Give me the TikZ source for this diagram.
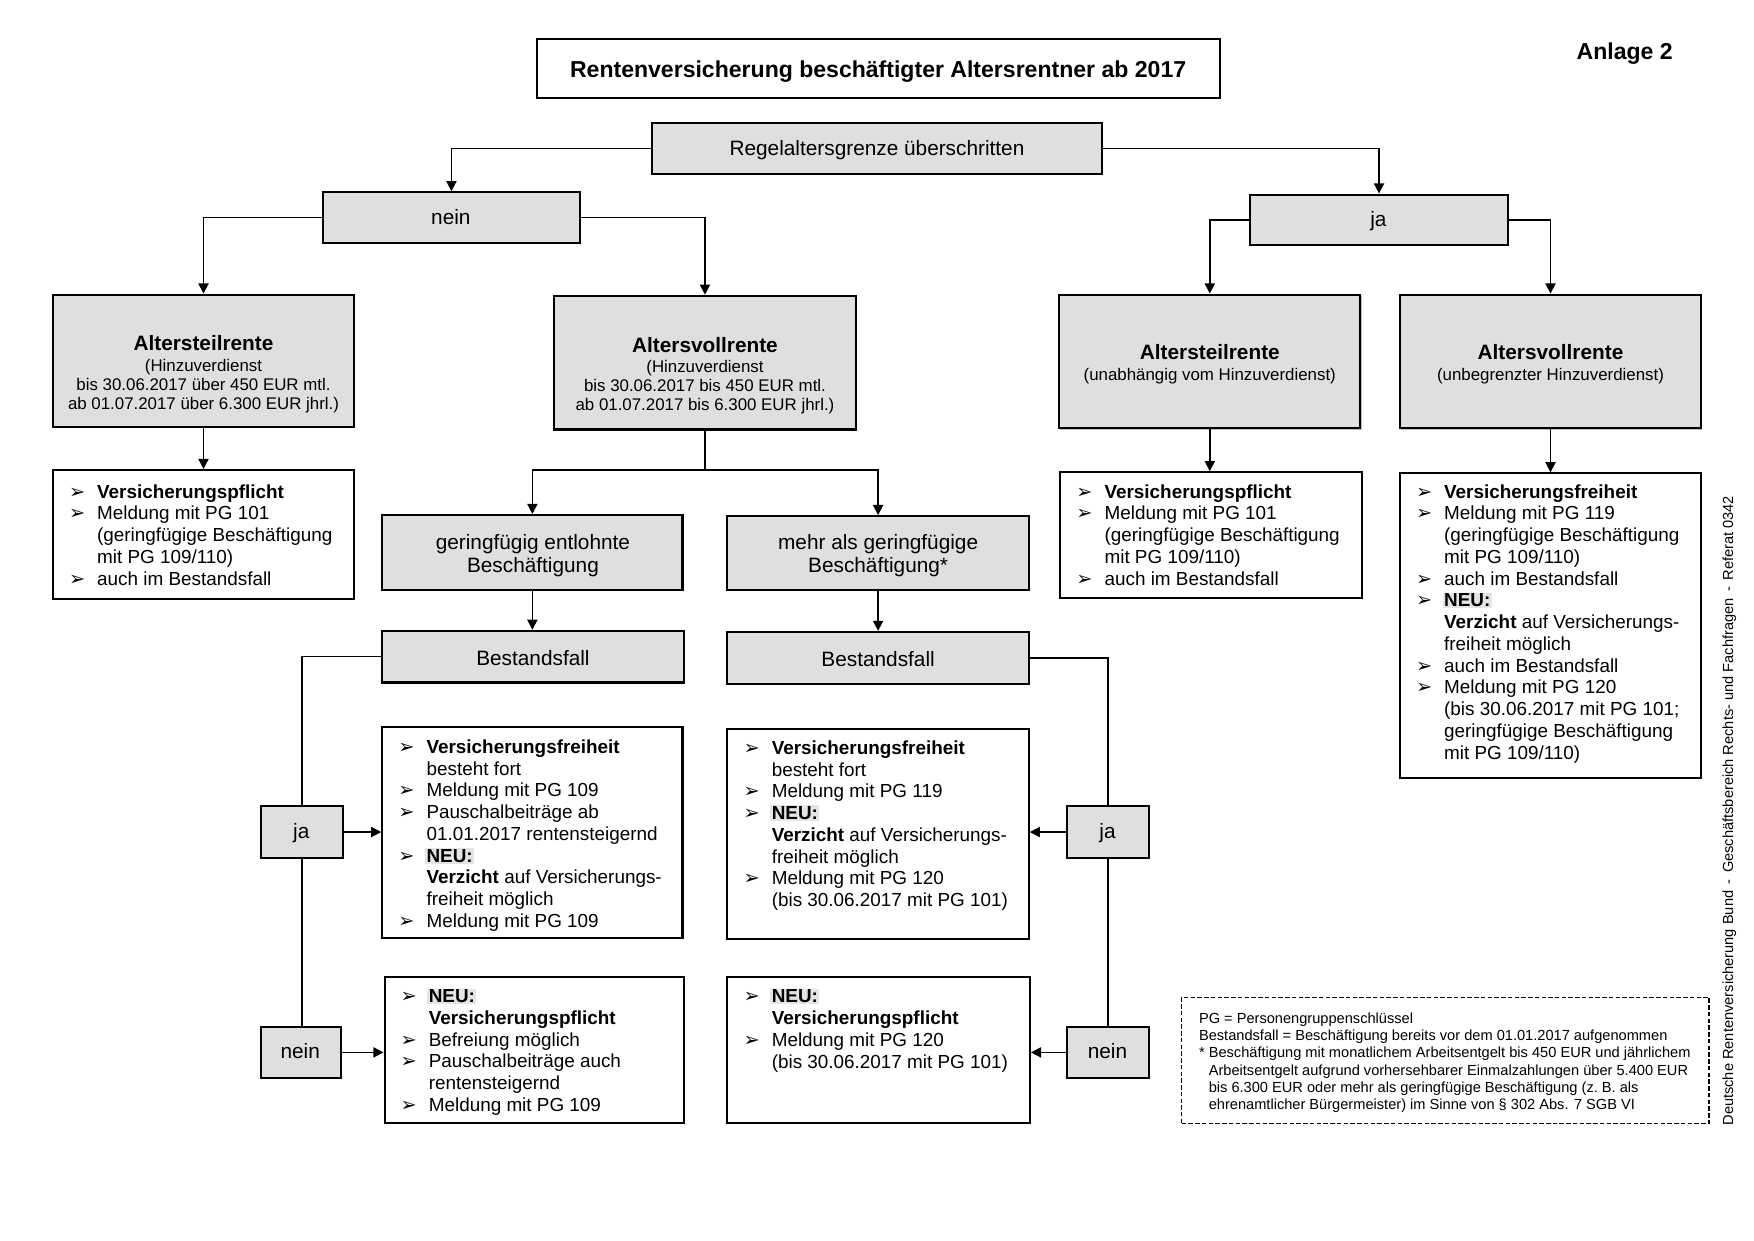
\documentclass[tikz,border=0pt]{standalone}
\usepackage{fontspec}
\setmainfont{Liberation Sans}
\newfontfamily\dvfont{DejaVu Sans}
\usetikzlibrary{arrows.meta,fit,shadows}
\definecolor{boxgray}{HTML}{DFDFDF}
\definecolor{neugray}{HTML}{E4E4E4}
\definecolor{shadowgray}{HTML}{BDBDBD}
\newcommand\fbig{\fontsize{10.25}{12}\selectfont}
\newcommand\fmid{\fontsize{9.25}{11}\selectfont}
\newcommand\flist{\fontsize{8.4}{10}\selectfont}
\newcommand\fsmall{\fontsize{7.5}{9}\selectfont}
\newcommand\ftiny{\fontsize{6.5}{8}\selectfont}
\newcommand\bu{\makebox[12.5pt][l]{{\dvfont\fontsize{8.6}{9}\selectfont ➢}}}
\newcommand\co{\hspace*{12.5pt}}
\newcommand\neu{{\setlength{\fboxsep}{0.6pt}\hspace*{-0.6pt}\colorbox{neugray}{\textbf{NEU:}}}}
\newcounter{tn}
\newcommand\tx[4][]{\stepcounter{tn}\node[txt,#1] (tx\arabic{tn}) at (#2,#3) {#4};}
\newcommand\lst[5][]{\foreach \xline [count=\i from 0] in {#5} {\stepcounter{tn}\node[lst,#1] (tx\arabic{tn}) at (#2,{#3+#4*\i}) {\xline};}}
\tikzset{
  txt/.style={inner sep=0pt, anchor=base, font=\fmid},
  lst/.style={inner sep=0pt, anchor=base west, font=\flist},
  shad/.style={drop shadow={shadow xshift=0.5pt, shadow yshift=-0.5pt, fill=shadowgray, opacity=1}},
  gbox/.style={draw, line width=0.9pt, fill=boxgray, inner sep=0pt, shad},
  wbox/.style={draw, line width=0.9pt, fill=white, inner sep=0pt, shad},
  conn/.style={line width=0.7pt, -{Triangle[length=4.5pt,width=4.5pt]}},
  plain/.style={line width=0.7pt},
}
\begin{document}
\begin{tikzpicture}[x=0.5pt,y=-0.5pt]
\fill[white] (0,0) rectangle (1560,1103);
\useasboundingbox (0,0) rectangle (1560,1103);

% boxes
\node[wbox, fit={(478,35) (1085,87)}] (title) {};
\node[gbox, fit={(580,109) (980,155)}] (reg) {};
\node[gbox, fit={(287,171) (516,216)}] (nein) {};
\node[gbox, fit={(1112,173) (1341,218)}] (ja) {};
\node[gbox, fit={(47,262) (315,380)}] (A1) {};
\node[gbox, fit={(493,263) (761,382)}] (A2) {};
\node[gbox, fit={(942,262) (1210,381)}] (A3) {};
\node[gbox, fit={(1245,262) (1513,381)}] (A4) {};
\node[wbox, fit={(47,418) (315,533)}] (L1) {};
\node[wbox, fit={(943,420) (1211,532)}] (L3) {};
\node[wbox, fit={(1245,421) (1513,692)}] (L4) {};
\node[gbox, fit={(340,458) (607,525)}] (G1) {};
\node[gbox, fit={(647,459) (915,525)}] (G2) {};
\node[gbox, fit={(340,561) (608,607)}] (B1) {};
\node[gbox, fit={(647,562) (915,608)}] (B2) {};
\node[wbox, fit={(340,647) (607,834)}] (F1) {};
\node[wbox, fit={(647,648) (915,835)}] (F2) {};
\node[wbox, fit={(342,869) (608,999)}] (P1) {};
\node[wbox, fit={(647,869) (916,999)}] (P2) {};
\node[gbox, fit={(232,717) (305,763)}] (J1) {};
\node[gbox, fit={(232,913) (303,959)}] (N1) {};
\node[gbox, fit={(949,717) (1022,763)}] (J2) {};
\node[gbox, fit={(949,913) (1022,959)}] (N2) {};
\node[draw, line width=0.6pt, dash pattern=on 2pt off 1pt, inner sep=0pt, fit={(1051,887) (1520,999)}] (leg) {};

% connectors
\draw[conn] (reg.west) -| (nein.north);
\draw[conn] (reg.east) -| (ja.north);
\draw[conn] (nein.west) -| (A1.north);
\draw[conn] (nein.east) -| (A2.north);
\draw[conn] (ja.west) -| (A3.north);
\draw[conn] (ja.east) -| (A4.north);
\draw[conn] (A1.south) -- (A1.south |- L1.north);
\draw[conn] (A3.south) -- (A3.south |- L3.north);
\draw[conn] (A4.south) -- (A4.south |- L4.north);
\draw[plain] (A2.south) -- ++(0,35) coordinate (sp);
\draw[conn] (sp) -| (G1.north);
\draw[conn] (sp) -| (G2.north);
\draw[conn] (G1.south) -- (G1.south |- B1.north);
\draw[conn] (G2.south) -- (G2.south |- B2.north);
\draw[plain] (B1.west) -| (J1.north);
\draw[plain] (J1.south) -- (J1.south |- N1.north);
\draw[conn] (J1.east) -- (J1.east -| F1.west);
\draw[conn] (N1.east) -- (N1.east -| P1.west);
\draw[plain] (B2.east) -| (J2.north);
\draw[plain] (J2.south) -- (J2.south |- N2.north);
\draw[conn] (J2.west) -- (J2.west -| F2.east);
\draw[conn] (N2.west) -- (N2.west -| P2.east);

% texts
\tx[font=\fbig\bfseries]{781}{68.5}{Rentenversicherung beschäftigter Altersrentner ab 2017}
\tx[font=\fbig\bfseries]{1445}{53}{Anlage 2}
\tx{780}{138.5}{Regelaltersgrenze überschritten}
\tx{401}{199.5}{nein}
\tx{1226}{201.5}{ja}
\tx[font=\fmid\bfseries]{181}{311.5}{Altersteilrente}
\tx[font=\fsmall]{181}{330.5}{(Hinzuverdienst}
\tx[font=\fsmall]{181}{347.5}{bis 30.06.2017 über 450 EUR mtl.}
\tx[font=\fsmall]{181}{364.5}{ab 01.07.2017 über 6.300 EUR jhrl.)}
\tx[font=\fmid\bfseries]{627}{313.5}{Altersvollrente}
\tx[font=\fsmall]{627}{331.5}{(Hinzuverdienst}
\tx[font=\fsmall]{627}{348.5}{bis 30.06.2017 bis 450 EUR mtl.}
\tx[font=\fsmall]{627}{365.5}{ab 01.07.2017 bis 6.300 EUR jhrl.)}
\tx[font=\fmid\bfseries]{1076}{319.5}{Altersteilrente}
\tx[font=\fsmall]{1076}{338.5}{(unabhängig vom Hinzuverdienst)}
\tx[font=\fmid\bfseries]{1379}{319.5}{Altersvollrente}
\tx[font=\fsmall]{1379}{338.5}{(unbegrenzter Hinzuverdienst)}
\tx{474}{488.5}{geringfügig entlohnte}
\tx{474}{509.5}{Beschäftigung}
\tx{781}{488.5}{mehr als geringfügige}
\tx{781}{509.5}{Beschäftigung*}
\tx{474}{591.5}{Bestandsfall}
\tx{781}{592.5}{Bestandsfall}
\tx{268}{746}{ja}
\tx{267}{941.5}{nein}
\tx{985}{746}{ja}
\tx{985}{941.5}{nein}

\lst{61}{443}{19.35}{{\bu\textbf{Versicherungspflicht}},{\bu Meldung mit PG 101},{\co (geringfügige Beschäftigung},{\co mit PG 109/110)},{\bu auch im Bestandsfall}}
\lst{957}{443}{19.35}{{\bu\textbf{Versicherungspflicht}},{\bu Meldung mit PG 101},{\co (geringfügige Beschäftigung},{\co mit PG 109/110)},{\bu auch im Bestandsfall}}
\lst{1259}{443}{19.35}{{\bu\textbf{Versicherungsfreiheit}},{\bu Meldung mit PG 119},{\co (geringfügige Beschäftigung},{\co mit PG 109/110)},{\bu auch im Bestandsfall},{\bu\neu},{\co\textbf{Verzicht} auf Versicherungs-},{\co freiheit möglich},{\bu auch im Bestandsfall},{\bu Meldung mit PG 120},{\co (bis 30.06.2017 mit PG 101;},{\co geringfügige Beschäftigung},{\co mit PG 109/110)}}
\lst{354}{670}{19.35}{{\bu\textbf{Versicherungsfreiheit}},{\co besteht fort},{\bu Meldung mit PG 109},{\bu Pauschalbeiträge ab},{\co 01.01.2017 rentensteigernd},{\bu\neu},{\co\textbf{Verzicht} auf Versicherungs-},{\co freiheit möglich},{\bu Meldung mit PG 109}}
\lst{661}{671}{19.35}{{\bu\textbf{Versicherungsfreiheit}},{\co besteht fort},{\bu Meldung mit PG 119},{\bu\neu},{\co\textbf{Verzicht} auf Versicherungs-},{\co freiheit möglich},{\bu Meldung mit PG 120},{\co (bis 30.06.2017 mit PG 101)}}
\lst{356}{892}{19.25}{{\bu\neu},{\co\textbf{Versicherungspflicht}},{\bu Befreiung möglich},{\bu Pauschalbeiträge auch},{\co rentensteigernd},{\bu Meldung mit PG 109}}
\lst{661}{892}{19.35}{{\bu\neu},{\co\textbf{Versicherungspflicht}},{\bu Meldung mit PG 120},{\co (bis 30.06.2017 mit PG 101)}}

\lst[font=\ftiny]{1066}{910.5}{15.2}{{PG = Personengruppenschlüssel},{Bestandsfall = Beschäftigung bereits vor dem 01.01.2017 aufgenommen},{* Beschäftigung mit monatlichem Arbeitsentgelt bis 450 EUR und jährlichem},{\phantom{*} Arbeitsentgelt aufgrund vorhersehbarer Einmalzahlungen über 5.400 EUR},{\phantom{*} bis 6.300 EUR oder mehr als geringfügige Beschäftigung (z.~B. als},{\phantom{*} ehrenamtlicher Bürgermeister) im Sinne von § 302 Abs. 7 SGB VI}}

\node[rotate=90, inner sep=0pt, font=\ftiny] (side) at (1538,721) {Deutsche Rentenversicherung Bund \,-\, Geschäftsbereich Rechts- und Fachfragen \,-\, Referat 0342};
\end{tikzpicture}
\end{document}
